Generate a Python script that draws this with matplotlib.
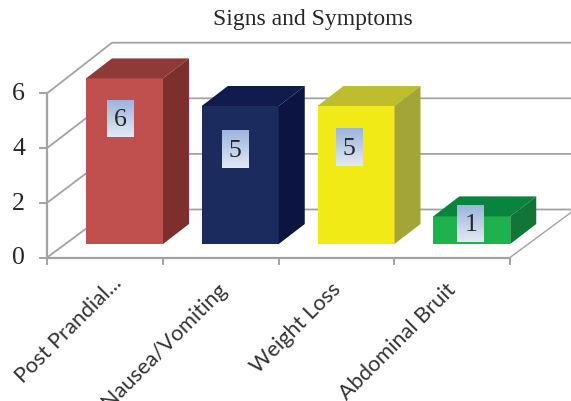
import numpy as np
import matplotlib
matplotlib.use("Agg")
import matplotlib.pyplot as plt
from matplotlib.patches import Polygon

# chart values
categories = ["Post Prandial...", "Nausea/Vomiting", "Weight Loss", "Abdominal Bruit"]
values = [6, 5, 5, 1]
y_ticks = [0, 2, 4, 6]
front_colors = ["#c0504d", "#1c2b5e", "#f2ea16", "#20b14f"]
top_colors = ["#8e3a38", "#121b4d", "#bdbd2e", "#08843f"]
side_colors = ["#7d2f2e", "#0c1541", "#a3a536", "#127538"]

# layout of the fake 3d box, in pixels
x0, y0 = 47, 258.5
cat_w = 115.75
unit = 27.35
back_unit = 27.8
bar_unit = 27.6
wall_dx, wall_dy = 65, -48
bar_w = 77
bar_off = 39
bar_base = 13.5
depth_dx, depth_dy = 26, -20
grid_c = "#a3a3a3"

# label box centre, relative to the bar's front centre / pixel y
label_dx = [-4, -5, -7, -1]
label_y = [119.5, 150, 148, 224.5]

fig = plt.figure(figsize=(5.71, 4.02), dpi=100)
ax = fig.add_axes([0, 0, 1, 1])
ax.set_xlim(0, 571)
ax.set_ylim(402, 0)
ax.axis("off")

def px(cat, val=0):
    # category position + value -> pixel coordinates on the front plane
    return x0 + cat * cat_w, y0 - val * unit

# back wall and left wall gridlines
for t in y_ticks:
    fx, fy = px(0, t)
    by = y0 + wall_dy - t * back_unit
    ax.plot([fx, fx + wall_dx, 575], [fy, by, by], color=grid_c, lw=1.3, zorder=1, solid_joinstyle="miter")

# floor edge on the right
fx, fy = px(4, 0)
ax.plot([fx, fx + wall_dx], [fy, fy + wall_dy], color=grid_c, lw=1.0, zorder=1)

# axes and ticks
ax.plot([x0, x0], [px(0, 6)[1], y0], color=grid_c, lw=1.6, zorder=2)
ax.plot([x0, px(4)[0]], [y0, y0], color=grid_c, lw=1.6, zorder=2)
for t in y_ticks:
    ax.plot([x0 - 7, x0], [px(0, t)[1]] * 2, color=grid_c, lw=1.4, zorder=2)
    ax.text(25, px(0, t)[1], str(t), ha="right", va="center", family="Liberation Serif", fontsize=18.5, color="#262626")
for i in range(5):
    ax.plot([px(i)[0]] * 2, [y0, y0 + 6], color=grid_c, lw=1.4, zorder=2)

# bars
for i, v in enumerate(values):
    left = px(i)[0] + bar_off
    right = left + bar_w
    bottom = y0 - bar_base
    top = bottom - v * bar_unit
    ax.add_patch(Polygon([(left, bottom), (right, bottom), (right, top), (left, top)], fc=front_colors[i], ec="none", zorder=3))
    ax.add_patch(Polygon([(left, top), (right, top), (right + depth_dx, top + depth_dy), (left + depth_dx, top + depth_dy)], fc=top_colors[i], ec="none", zorder=3))
    ax.add_patch(Polygon([(right, bottom), (right + depth_dx, bottom + depth_dy), (right + depth_dx, top + depth_dy), (right, top)], fc=side_colors[i], ec="none", zorder=3))

# value labels on a small gradient box
grad = np.linspace(0, 1, 64).reshape(-1, 1)
cmap = matplotlib.colors.LinearSegmentedColormap.from_list("box", ["#9db4dc", "#e2e9f5"])
for i, v in enumerate(values):
    cx = px(i)[0] + bar_off + bar_w / 2 + label_dx[i]
    cy = label_y[i]
    ax.imshow(grad, cmap=cmap, extent=[cx - 13.5, cx + 13.5, cy + 18.5, cy - 18.5], aspect="auto", zorder=5)
    ax.text(cx, cy + 1, str(v), ha="center", va="center", family="Liberation Serif", fontsize=18.5, color="#262626", zorder=6)
ax.set_xlim(0, 571)
ax.set_ylim(402, 0)

# category labels
label_end = [(119, 280), (224, 286), (338, 286), (453, 287)]
for name, (ex, ey) in zip(categories, label_end):
    ax.text(ex, ey, name, rotation=45, rotation_mode="anchor", ha="right", va="center", family="Lato", fontsize=15.7, color="#333333")

ax.text(312.5, 19.5, "Signs and Symptoms", ha="center", va="center", family="Liberation Serif", fontsize=17, color="#262626")

fig.savefig("out.png", dpi=100)
